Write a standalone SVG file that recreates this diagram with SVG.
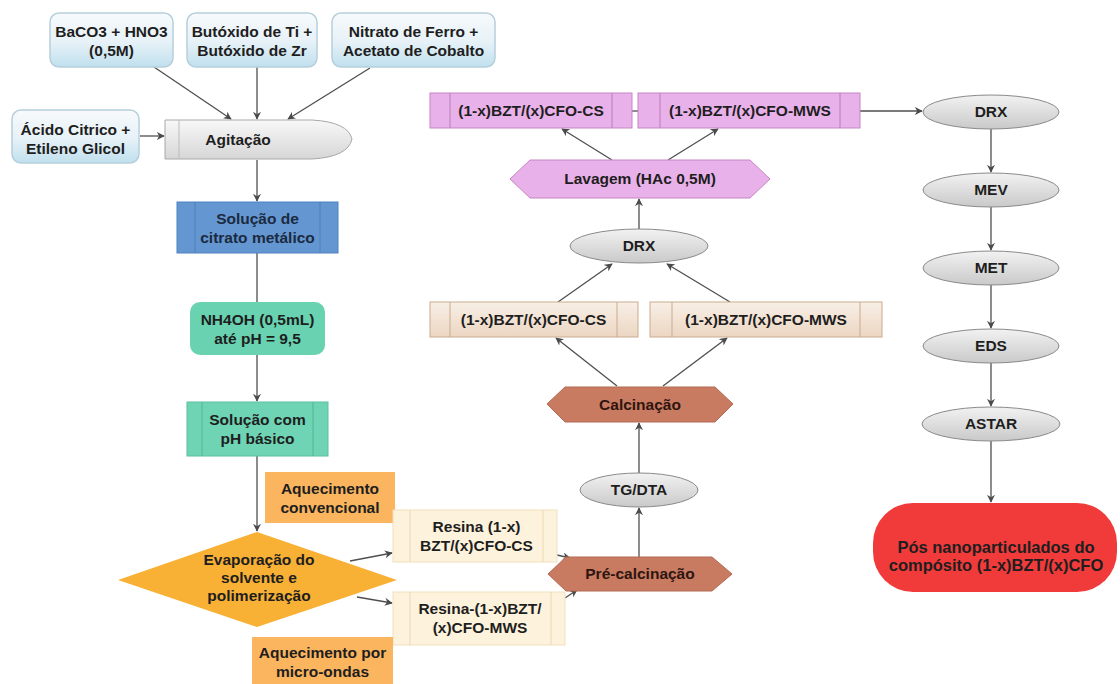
<svg xmlns="http://www.w3.org/2000/svg" width="1120" height="684" viewBox="0 0 1120 684">
<defs>
<linearGradient id="gIn" x1="0" y1="0" x2="0" y2="1"><stop offset="0" stop-color="#f7fafc"/><stop offset="0.55" stop-color="#e6f1f7"/><stop offset="1" stop-color="#bfe0ee"/></linearGradient>
<linearGradient id="gGray" x1="0" y1="0" x2="0" y2="1"><stop offset="0" stop-color="#f8f8f8"/><stop offset="1" stop-color="#d6d6d6"/></linearGradient>
<linearGradient id="gEll" x1="0" y1="0" x2="0" y2="1"><stop offset="0" stop-color="#f2f2f2"/><stop offset="1" stop-color="#c9c9c9"/></linearGradient>
<linearGradient id="gTan" x1="0" y1="0" x2="0" y2="1"><stop offset="0" stop-color="#f8efe6"/><stop offset="1" stop-color="#ecd6c2"/></linearGradient>
<marker id="ah" viewBox="0 0 10 10" refX="9" refY="5" markerWidth="8" markerHeight="8" orient="auto" markerUnits="userSpaceOnUse"><path d="M0,0 L10,5 L0,10 L3,5 z" fill="#4a4a4a"/></marker>
</defs>
<style>
text{font-family:"Liberation Sans",Arial,sans-serif;font-weight:bold;font-size:15.5px;fill:#1e1e1e;text-anchor:middle}
.in{fill:url(#gIn);stroke:#b7cfdb;stroke-width:1.5}
.ell{fill:url(#gEll);stroke:#8a8a8a;stroke-width:1}
.tan{fill:url(#gTan);stroke:#c9ab90;stroke-width:1}
.pink{fill:#e9b1ea;stroke:#c487c4;stroke-width:1}
.brick{fill:#c87b61;stroke:#b36a52;stroke-width:1}
.orange{fill:#fbb55f}
.cream{fill:#fdf2dc;stroke:#f1dfc0;stroke-width:1}
.div{stroke-width:1;fill:none}
.c line,.c path{stroke:#4f4f4f;stroke-width:1.3;fill:none}
.ar{marker-end:url(#ah)}
</style>
<rect width="1120" height="684" fill="#ffffff"/>

<g class="c" id="connectors">
<line class="ar" x1="154" y1="67" x2="231" y2="119"/>
<line class="ar" x1="257" y1="67" x2="257" y2="119"/>
<line class="ar" x1="370" y1="68" x2="288" y2="119"/>
<line class="ar" x1="140" y1="136" x2="164" y2="136"/>
<line class="ar" x1="257" y1="160" x2="257" y2="201"/>
<line x1="257" y1="253" x2="257" y2="302"/>
<line class="ar" x1="257" y1="355" x2="257" y2="401"/>
<line class="ar" x1="257" y1="456" x2="257" y2="531"/>
<line class="ar" x1="350" y1="561" x2="392" y2="553"/>
<line class="ar" x1="357" y1="597" x2="392" y2="603"/>
<line class="ar" x1="557" y1="555" x2="570" y2="558"/>
<line class="ar" x1="565" y1="598" x2="577" y2="590"/>
<line class="ar" x1="639" y1="557" x2="639" y2="508"/>
<line class="ar" x1="639" y1="473" x2="639" y2="423"/>
<line class="ar" x1="617" y1="386" x2="556" y2="338"/>
<line class="ar" x1="663" y1="386" x2="727" y2="338"/>
<line class="ar" x1="558" y1="302" x2="612" y2="264"/>
<line class="ar" x1="730" y1="302" x2="667" y2="264"/>
<line class="ar" x1="639" y1="229" x2="639" y2="199"/>
<line class="ar" x1="612" y1="160" x2="562" y2="129"/>
<line class="ar" x1="668" y1="160" x2="718" y2="129"/>
<line x1="632" y1="111" x2="638" y2="111"/>
<line class="ar" x1="860" y1="111" x2="922" y2="111"/>
<line class="ar" x1="991" y1="129" x2="991" y2="172"/>
<line class="ar" x1="991" y1="207" x2="991" y2="250"/>
<line class="ar" x1="991" y1="285" x2="991" y2="328"/>
<line class="ar" x1="991" y1="363" x2="991" y2="406"/>
<line class="ar" x1="991" y1="441" x2="991" y2="502"/>
</g>

<g id="n-baco3"><rect class="in" x="50" y="13" width="123" height="54" rx="9"/><text x="111.5" y="37">BaCO3 + HNO3</text><text x="111.5" y="56">(0,5M)</text></g>
<g id="n-butoxido"><rect class="in" x="187" y="13" width="130" height="54" rx="9"/><text x="252" y="37">Butóxido de Ti +</text><text x="252" y="56">Butóxido de Zr</text></g>
<g id="n-nitrato"><rect class="in" x="332" y="13" width="163" height="54" rx="9"/><text x="413.5" y="37">Nitrato de Ferro +</text><text x="413.5" y="56">Acetato de Cobalto</text></g>
<g id="n-acido"><rect class="in" x="12" y="110" width="127" height="53" rx="9"/><text x="75.5" y="135">Ácido Citrico +</text><text x="75.5" y="154">Etileno Glicol</text></g>
<g id="n-agitacao"><path d="M165,120 H312 Q348,122 352,139 Q348,157 312,159 H165 Z" fill="url(#gGray)" stroke="#a8a8a8" stroke-width="1"/><line class="div" x1="179" y1="120" x2="179" y2="159" stroke="#bdbdbd"/><text x="238" y="145">Agitação</text></g>
<g id="n-citrato"><rect x="177" y="202" width="161" height="51" fill="#6497d2" stroke="#4f83c0"/><line class="div" x1="195" y1="202" x2="195" y2="253" stroke="#4f7fb8"/><line class="div" x1="320" y1="202" x2="320" y2="253" stroke="#4f7fb8"/><text x="257.5" y="224" style="fill:#1b2a40">Solução de</text><text x="257.5" y="243" style="fill:#1b2a40">citrato metálico</text></g>
<g id="n-nh4oh"><rect x="190" y="302" width="135" height="53" rx="10" fill="#69d3b1"/><text x="257.5" y="325">NH4OH (0,5mL)</text><text x="257.5" y="344">até pH = 9,5</text></g>
<g id="n-solucao-ph"><rect x="187" y="402" width="141" height="54" fill="#6fd4b4" stroke="#5cc0a0"/><line class="div" x1="202" y1="402" x2="202" y2="456" stroke="#55b596"/><line class="div" x1="313" y1="402" x2="313" y2="456" stroke="#55b596"/><text x="257.5" y="425">Solução com</text><text x="257.5" y="444">pH básico</text></g>
<g id="n-aq-conv"><rect class="orange" x="265" y="472" width="130" height="51"/><text x="330" y="494">Aquecimento</text><text x="330" y="513">convencional</text></g>
<g id="n-evaporacao"><polygon points="118,580 257,532 397,580 257,627" fill="#f8b035"/><text x="259" y="565">Evaporação do</text><text x="259" y="583">solvente e</text><text x="259" y="601">polimerização</text></g>
<g id="n-resina-cs"><rect class="cream" x="393" y="510" width="164" height="52"/><line class="div" x1="410" y1="510" x2="410" y2="562" stroke="#ecd8b6"/><line class="div" x1="543" y1="510" x2="543" y2="562" stroke="#ecd8b6"/><text x="476.5" y="532">Resina (1-x)</text><text x="476.5" y="551">BZT/(x)CFO-CS</text></g>
<g id="n-resina-mws"><rect class="cream" x="393" y="592" width="172" height="53"/><line class="div" x1="410" y1="592" x2="410" y2="645" stroke="#ecd8b6"/><line class="div" x1="551" y1="592" x2="551" y2="645" stroke="#ecd8b6"/><text x="480" y="614">Resina-(1-x)BZT/</text><text x="480" y="633">(x)CFO-MWS</text></g>
<g id="n-aq-micro"><rect class="orange" x="252" y="637" width="141" height="52"/><text x="322.5" y="658">Aquecimento por</text><text x="322.5" y="677">micro-ondas</text></g>
<g id="n-precalc"><polygon class="brick" points="548,574 566,557 712,557 732,574 712,591 566,591"/><text x="640" y="579" style="fill:#2e1510">Pré-calcinação</text></g>
<g id="n-tgdta"><ellipse class="ell" cx="639" cy="490" rx="59" ry="17"/><text x="639" y="495">TG/DTA</text></g>
<g id="n-calc"><polygon class="brick" points="547,404 565,387 715,387 733,404 715,422 565,422"/><text x="640" y="410" style="fill:#2e1510">Calcinação</text></g>
<g id="n-cs"><rect class="tan" x="430" y="302" width="208" height="35"/><line class="div" x1="450" y1="302" x2="450" y2="337" stroke="#c9ab90"/><line class="div" x1="617" y1="302" x2="617" y2="337" stroke="#c9ab90"/><text x="533.5" y="325">(1-x)BZT/(x)CFO-CS</text></g>
<g id="n-mws"><rect class="tan" x="650" y="302" width="232" height="35"/><line class="div" x1="672" y1="302" x2="672" y2="337" stroke="#c9ab90"/><line class="div" x1="860" y1="302" x2="860" y2="337" stroke="#c9ab90"/><text x="766" y="325">(1-x)BZT/(x)CFO-MWS</text></g>
<g id="n-drx1"><ellipse class="ell" cx="639" cy="246" rx="69" ry="17"/><text x="639" y="251">DRX</text></g>
<g id="n-lavagem"><polygon class="pink" points="510,179 530,160 750,160 770,179 750,198 530,198"/><text x="640" y="184">Lavagem (HAc 0,5M)</text></g>
<g id="n-cs-top"><rect class="pink" x="430" y="93" width="202" height="35"/><line class="div" x1="450" y1="93" x2="450" y2="128" stroke="#b97cb9"/><line class="div" x1="612" y1="93" x2="612" y2="128" stroke="#b97cb9"/><text x="531" y="116">(1-x)BZT/(x)CFO-CS</text></g>
<g id="n-mws-top"><rect class="pink" x="638" y="93" width="222" height="35"/><line class="div" x1="660" y1="93" x2="660" y2="128" stroke="#b97cb9"/><line class="div" x1="840" y1="93" x2="840" y2="128" stroke="#b97cb9"/><text x="750" y="116">(1-x)BZT/(x)CFO-MWS</text></g>
<g id="n-drx2"><ellipse class="ell" cx="991" cy="112" rx="68" ry="17"/><text x="991" y="117">DRX</text></g>
<g id="n-mev"><ellipse class="ell" cx="991" cy="190" rx="68" ry="17"/><text x="991" y="195">MEV</text></g>
<g id="n-met"><ellipse class="ell" cx="991" cy="268" rx="68" ry="17"/><text x="991" y="273">MET</text></g>
<g id="n-eds"><ellipse class="ell" cx="991" cy="346" rx="68" ry="17"/><text x="991" y="351">EDS</text></g>
<g id="n-astar"><ellipse class="ell" cx="991" cy="424" rx="69" ry="17"/><text x="991" y="429">ASTAR</text></g>
<g id="n-pos"><rect x="873" y="503" width="244" height="89" rx="40" fill="#f13b3b"/><text x="996" y="553" style="font-size:16.5px">Pós nanoparticulados do</text><text x="996" y="571" style="font-size:16.5px">compósito (1-x)BZT/(x)CFO</text></g>
</svg>
